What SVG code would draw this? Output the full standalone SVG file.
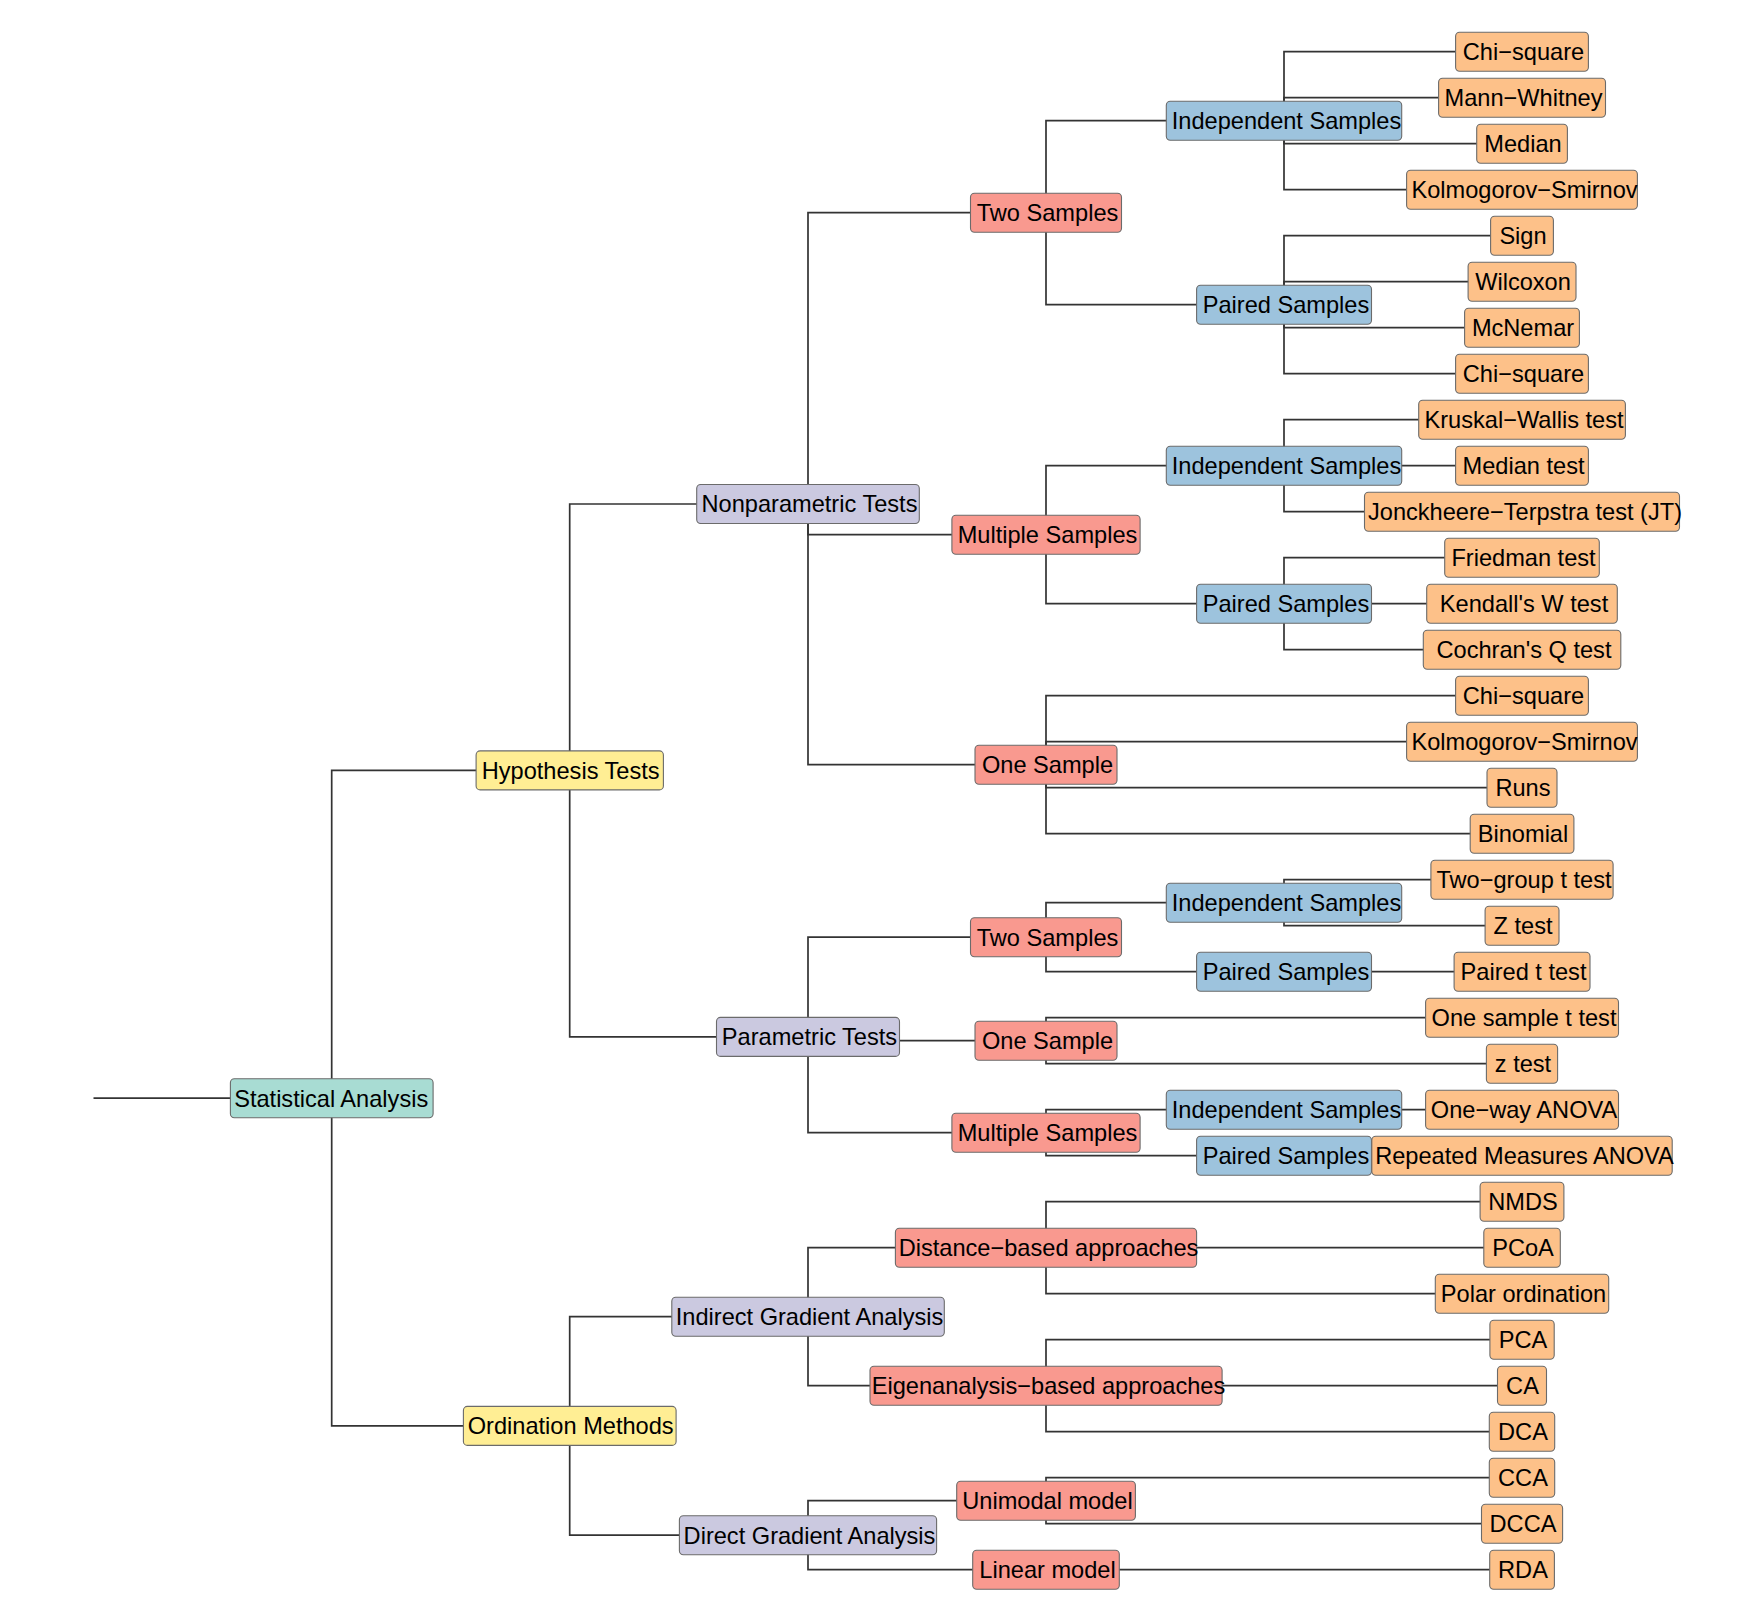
<svg xmlns="http://www.w3.org/2000/svg" width="1737" height="1624" viewBox="0 0 1737 1624">
<style>
rect{stroke:#6b6b6b;stroke-width:1.1}
.root rect{fill:#a8dcd3}
.l1 rect{fill:#ffee94}
.l2 rect{fill:#cbc9e0}
.l3 rect{fill:#f9998f}
.l4 rect{fill:#9dc3dd}
.l5 rect{fill:#fdc189}
text{font-family:"Liberation Sans",Arial,sans-serif;font-size:23.6px;text-anchor:middle;fill:#000}
#connectors path{fill:none;stroke:#333;stroke-width:1.7}
</style>
<rect x="0" y="0" width="1737" height="1624" fill="#fff" style="stroke:none"/>
<g id="connectors">
<path d="M93.5,1098.2 H331.7"/>
<path d="M331.7,1098.2 V770.4 H569.7"/>
<path d="M331.7,1098.2 V1425.9 H569.7"/>
<path d="M569.7,770.4 V504 H808"/>
<path d="M569.7,770.4 V1036.9 H808"/>
<path d="M569.7,1425.9 V1316.7 H808"/>
<path d="M569.7,1425.9 V1535.2 H808"/>
<path d="M808,504 V212.7 H1046"/>
<path d="M808,504 V534.7 H1046"/>
<path d="M808,504 V764.7 H1046"/>
<path d="M808,1036.9 V937.2 H1046"/>
<path d="M808,1036.9 V1040.7 H1046"/>
<path d="M808,1036.9 V1132.7 H1046"/>
<path d="M808,1316.7 V1247.7 H1046"/>
<path d="M808,1316.7 V1385.7 H1046"/>
<path d="M808,1535.2 V1500.7 H1046"/>
<path d="M808,1535.2 V1569.7 H1046"/>
<path d="M1046,212.7 V120.7 H1284"/>
<path d="M1046,212.7 V304.7 H1284"/>
<path d="M1046,534.7 V465.7 H1284"/>
<path d="M1046,534.7 V603.7 H1284"/>
<path d="M1046,764.7 V695.7 H1522"/>
<path d="M1046,764.7 V741.7 H1522"/>
<path d="M1046,764.7 V787.7 H1522"/>
<path d="M1046,764.7 V833.7 H1522"/>
<path d="M1046,937.2 V902.7 H1284"/>
<path d="M1046,937.2 V971.7 H1284"/>
<path d="M1046,1040.7 V1017.7 H1522"/>
<path d="M1046,1040.7 V1063.7 H1522"/>
<path d="M1046,1132.7 V1109.7 H1284"/>
<path d="M1046,1132.7 V1155.7 H1284"/>
<path d="M1046,1247.7 V1201.7 H1522"/>
<path d="M1046,1247.7 V1247.7 H1522"/>
<path d="M1046,1247.7 V1293.7 H1522"/>
<path d="M1046,1385.7 V1339.7 H1522"/>
<path d="M1046,1385.7 V1385.7 H1522"/>
<path d="M1046,1385.7 V1431.7 H1522"/>
<path d="M1046,1500.7 V1477.7 H1522"/>
<path d="M1046,1500.7 V1523.7 H1522"/>
<path d="M1046,1569.7 H1522"/>
<path d="M1284,120.7 V51.7 H1522"/>
<path d="M1284,120.7 V97.7 H1522"/>
<path d="M1284,120.7 V143.7 H1522"/>
<path d="M1284,120.7 V189.7 H1522"/>
<path d="M1284,304.7 V235.7 H1522"/>
<path d="M1284,304.7 V281.7 H1522"/>
<path d="M1284,304.7 V327.7 H1522"/>
<path d="M1284,304.7 V373.7 H1522"/>
<path d="M1284,465.7 V419.7 H1522"/>
<path d="M1284,465.7 V465.7 H1522"/>
<path d="M1284,465.7 V511.7 H1522"/>
<path d="M1284,603.7 V557.7 H1522"/>
<path d="M1284,603.7 V603.7 H1522"/>
<path d="M1284,603.7 V649.7 H1522"/>
<path d="M1284,902.7 V879.7 H1522"/>
<path d="M1284,902.7 V925.7 H1522"/>
<path d="M1284,971.7 H1522"/>
<path d="M1284,1109.7 H1522"/>
<path d="M1284,1155.7 H1522"/>
</g>
<g id="n-root" class="root"><rect x="230.4" y="1078.7" width="202.7" height="39" rx="4"/><text x="331.2" y="1106.5">Statistical Analysis</text></g>
<g id="n-hyp" class="l1"><rect x="476.1" y="750.9" width="187.3" height="39" rx="4"/><text x="570.7" y="778.7">Hypothesis Tests</text></g>
<g id="n-ord" class="l1"><rect x="463.4" y="1406.4" width="212.7" height="39" rx="4"/><text x="570.7" y="1434.2">Ordination Methods</text></g>
<g id="n-nonpar" class="l2"><rect x="696.7" y="484.5" width="222.6" height="39" rx="4"/><text x="809.5" y="512.3">Nonparametric Tests</text></g>
<g id="n-par" class="l2"><rect x="716.5" y="1017.4" width="183" height="39" rx="4"/><text x="809.5" y="1045.2">Parametric Tests</text></g>
<g id="n-iga" class="l2"><rect x="671.8" y="1297.2" width="272.5" height="39" rx="4"/><text x="809.5" y="1325">Indirect Gradient Analysis</text></g>
<g id="n-dga" class="l2"><rect x="679.4" y="1515.7" width="257.2" height="39" rx="4"/><text x="809.5" y="1543.5">Direct Gradient Analysis</text></g>
<g id="n-np-two" class="l3"><rect x="970.5" y="193.2" width="151" height="39" rx="4"/><text x="1047.5" y="221">Two Samples</text></g>
<g id="n-np-multi" class="l3"><rect x="951.9" y="515.2" width="188.2" height="39" rx="4"/><text x="1047.5" y="543">Multiple Samples</text></g>
<g id="n-np-one" class="l3"><rect x="975" y="745.2" width="142" height="39" rx="4"/><text x="1047.5" y="773">One Sample</text></g>
<g id="n-p-two" class="l3"><rect x="970.5" y="917.7" width="151" height="39" rx="4"/><text x="1047.5" y="945.5">Two Samples</text></g>
<g id="n-p-one" class="l3"><rect x="975" y="1021.2" width="142" height="39" rx="4"/><text x="1047.5" y="1049">One Sample</text></g>
<g id="n-p-multi" class="l3"><rect x="951.9" y="1113.2" width="188.2" height="39" rx="4"/><text x="1047.5" y="1141">Multiple Samples</text></g>
<g id="n-dist" class="l3"><rect x="895.4" y="1228.2" width="301.2" height="39" rx="4"/><text x="1048.5" y="1256">Distance−based approaches</text></g>
<g id="n-eigen" class="l3"><rect x="870" y="1366.2" width="352.1" height="39" rx="4"/><text x="1048.5" y="1394">Eigenanalysis−based approaches</text></g>
<g id="n-unimodal" class="l3"><rect x="956.7" y="1481.2" width="178.7" height="39" rx="4"/><text x="1047.5" y="1509">Unimodal model</text></g>
<g id="n-linear" class="l3"><rect x="972.7" y="1550.2" width="146.6" height="39" rx="4"/><text x="1047.5" y="1578">Linear model</text></g>
<g id="n-b1" class="l4"><rect x="1166.3" y="101.2" width="235.4" height="39" rx="4"/><text x="1286.5" y="129">Independent Samples</text></g>
<g id="n-b2" class="l4"><rect x="1196.6" y="285.2" width="174.9" height="39" rx="4"/><text x="1286" y="313">Paired Samples</text></g>
<g id="n-b3" class="l4"><rect x="1166.3" y="446.2" width="235.4" height="39" rx="4"/><text x="1286.5" y="474">Independent Samples</text></g>
<g id="n-b4" class="l4"><rect x="1196.6" y="584.2" width="174.9" height="39" rx="4"/><text x="1286" y="612">Paired Samples</text></g>
<g id="n-b5" class="l4"><rect x="1166.3" y="883.2" width="235.4" height="39" rx="4"/><text x="1286.5" y="911">Independent Samples</text></g>
<g id="n-b6" class="l4"><rect x="1196.6" y="952.2" width="174.9" height="39" rx="4"/><text x="1286" y="980">Paired Samples</text></g>
<g id="n-b7" class="l4"><rect x="1166.3" y="1090.2" width="235.4" height="39" rx="4"/><text x="1286.5" y="1118">Independent Samples</text></g>
<g id="n-b8" class="l4"><rect x="1196.6" y="1136.2" width="174.9" height="39" rx="4"/><text x="1286" y="1164">Paired Samples</text></g>
<g id="n-leaf1" class="l5"><rect x="1455.6" y="32.2" width="132.8" height="39" rx="4"/><text x="1523.5" y="60">Chi−square</text></g>
<g id="n-leaf2" class="l5"><rect x="1438.6" y="78.2" width="166.9" height="39" rx="4"/><text x="1523.5" y="106">Mann−Whitney</text></g>
<g id="n-leaf3" class="l5"><rect x="1476.7" y="124.2" width="90.7" height="39" rx="4"/><text x="1523" y="152">Median</text></g>
<g id="n-leaf4" class="l5"><rect x="1406.6" y="170.2" width="230.8" height="39" rx="4"/><text x="1524.5" y="198">Kolmogorov−Smirnov</text></g>
<g id="n-leaf5" class="l5"><rect x="1490.6" y="216.2" width="62.8" height="39" rx="4"/><text x="1523" y="244">Sign</text></g>
<g id="n-leaf6" class="l5"><rect x="1468.1" y="262.2" width="107.9" height="39" rx="4"/><text x="1523" y="290">Wilcoxon</text></g>
<g id="n-leaf7" class="l5"><rect x="1464.6" y="308.2" width="114.8" height="39" rx="4"/><text x="1523" y="336">McNemar</text></g>
<g id="n-leaf8" class="l5"><rect x="1455.6" y="354.2" width="132.8" height="39" rx="4"/><text x="1523.5" y="382">Chi−square</text></g>
<g id="n-leaf9" class="l5"><rect x="1418.7" y="400.2" width="206.7" height="39" rx="4"/><text x="1524" y="428">Kruskal−Wallis test</text></g>
<g id="n-leaf10" class="l5"><rect x="1455.6" y="446.2" width="132.8" height="39" rx="4"/><text x="1523.5" y="474">Median test</text></g>
<g id="n-leaf11" class="l5"><rect x="1364.5" y="492.2" width="315" height="39" rx="4"/><text x="1525" y="520">Jonckheere−Terpstra test (JT)</text></g>
<g id="n-leaf12" class="l5"><rect x="1444.7" y="538.2" width="154.6" height="39" rx="4"/><text x="1523.5" y="566">Friedman test</text></g>
<g id="n-leaf13" class="l5"><rect x="1426.7" y="584.2" width="190.6" height="39" rx="4"/><text x="1524" y="612">Kendall's W test</text></g>
<g id="n-leaf14" class="l5"><rect x="1423.3" y="630.2" width="197.5" height="39" rx="4"/><text x="1524" y="658">Cochran's Q test</text></g>
<g id="n-leaf15" class="l5"><rect x="1455.6" y="676.2" width="132.8" height="39" rx="4"/><text x="1523.5" y="704">Chi−square</text></g>
<g id="n-leaf16" class="l5"><rect x="1406.6" y="722.2" width="230.8" height="39" rx="4"/><text x="1524.5" y="750">Kolmogorov−Smirnov</text></g>
<g id="n-leaf17" class="l5"><rect x="1487" y="768.2" width="70" height="39" rx="4"/><text x="1523" y="796">Runs</text></g>
<g id="n-leaf18" class="l5"><rect x="1470.2" y="814.2" width="103.7" height="39" rx="4"/><text x="1523" y="842">Binomial</text></g>
<g id="n-leaf19" class="l5"><rect x="1430.9" y="860.2" width="182.2" height="39" rx="4"/><text x="1524" y="888">Two−group t test</text></g>
<g id="n-leaf20" class="l5"><rect x="1485.1" y="906.2" width="73.9" height="39" rx="4"/><text x="1523" y="934">Z test</text></g>
<g id="n-leaf21" class="l5"><rect x="1454.1" y="952.2" width="135.9" height="39" rx="4"/><text x="1523.5" y="980">Paired t test</text></g>
<g id="n-leaf22" class="l5"><rect x="1425.6" y="998.2" width="192.9" height="39" rx="4"/><text x="1524" y="1026">One sample t test</text></g>
<g id="n-leaf23" class="l5"><rect x="1486.4" y="1044.2" width="71.2" height="39" rx="4"/><text x="1523" y="1072">z test</text></g>
<g id="n-leaf24" class="l5"><rect x="1425.6" y="1090.2" width="192.9" height="39" rx="4"/><text x="1524" y="1118">One−way ANOVA</text></g>
<g id="n-leaf25" class="l5"><rect x="1371.8" y="1136.2" width="300.4" height="39" rx="4"/><text x="1524.5" y="1164">Repeated Measures ANOVA</text></g>
<g id="n-leaf26" class="l5"><rect x="1480.1" y="1182.2" width="83.8" height="39" rx="4"/><text x="1523" y="1210">NMDS</text></g>
<g id="n-leaf27" class="l5"><rect x="1483.8" y="1228.2" width="76.5" height="39" rx="4"/><text x="1523" y="1256">PCoA</text></g>
<g id="n-leaf28" class="l5"><rect x="1435.3" y="1274.2" width="173.4" height="39" rx="4"/><text x="1523.5" y="1302">Polar ordination</text></g>
<g id="n-leaf29" class="l5"><rect x="1489.9" y="1320.2" width="64.3" height="39" rx="4"/><text x="1523" y="1348">PCA</text></g>
<g id="n-leaf30" class="l5"><rect x="1497.5" y="1366.2" width="49" height="39" rx="4"/><text x="1522.5" y="1394">CA</text></g>
<g id="n-leaf31" class="l5"><rect x="1489.3" y="1412.2" width="65.4" height="39" rx="4"/><text x="1523" y="1440">DCA</text></g>
<g id="n-leaf32" class="l5"><rect x="1489.3" y="1458.2" width="65.4" height="39" rx="4"/><text x="1523" y="1486">CCA</text></g>
<g id="n-leaf33" class="l5"><rect x="1481.5" y="1504.2" width="81.1" height="39" rx="4"/><text x="1523" y="1532">DCCA</text></g>
<g id="n-leaf34" class="l5"><rect x="1489.7" y="1550.2" width="64.7" height="39" rx="4"/><text x="1523" y="1578">RDA</text></g>
</svg>
